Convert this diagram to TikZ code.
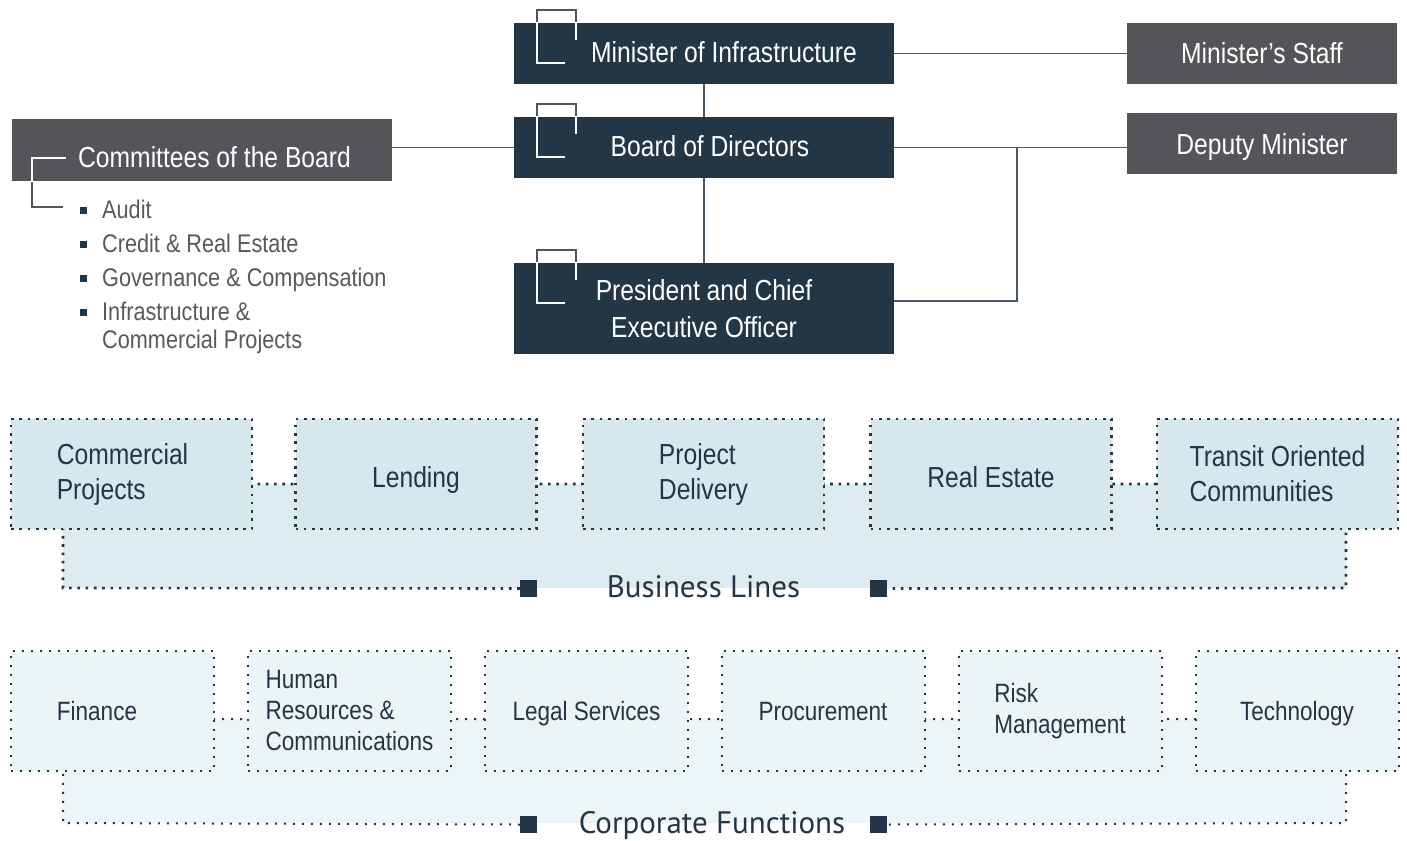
\documentclass[tikz,border=0pt]{standalone}
\usepackage{xcolor}
\usepackage{fontspec}
\setmainfont[FakeStretch=0.85]{Liberation Sans}
\newfontfamily\bandfont{PT Sans}
\usepackage{tikz}
\usetikzlibrary{positioning}

\definecolor{navy}{HTML}{233646}
\definecolor{slate}{HTML}{545558}
\definecolor{listgray}{HTML}{58595B}
\definecolor{linkgray}{HTML}{4A5866}
\definecolor{bizfill}{HTML}{D6E8EE}
\definecolor{bizband}{HTML}{DDECF0}
\definecolor{corpfill}{HTML}{EBF4F7}
\definecolor{corpband}{HTML}{EDF5F8}

\tikzset{
    execbox/.style={fill=navy, text=white, inner sep=0pt, minimum width=380pt, minimum height=61pt, align=center, font=\fontsize{29}{37}\selectfont},
    staffbox/.style={fill=slate, text=white, inner sep=0pt, minimum width=270pt, minimum height=61pt, text height=21pt, text depth=0pt, font=\fontsize{29}{37}\selectfont},
    oneline/.style={text height=#1, text depth=0pt},
    link/.style={draw=linkgray, line width=1.5pt},
    bizedge/.style={draw=navy, line width=2.6pt, dash pattern=on 2.6pt off 5.7pt},
    corpedge/.style={draw=navy, line width=2pt, dash pattern=on 2pt off 7pt},
    bizbox/.style={bizedge, fill=bizfill, inner sep=0pt, minimum width=241pt, minimum height=110pt, text=navy, align=left, font=\fontsize{29}{35}\selectfont},
    corpbox/.style={corpedge, fill=corpfill, inner sep=0pt, minimum width=203pt, minimum height=120pt, text=navy, align=left, font=\fontsize{26.5}{31}\selectfont},
    bandmark/.style={fill=navy, minimum size=17pt, inner sep=0pt},
    bandlabel/.style={text=navy, inner sep=0pt, anchor=base, font=\bandfont\fontsize{31}{31}\selectfont},
    listitem/.style={text=listgray, inner sep=0pt, anchor=base west, font=\fontsize{25.5}{34}\selectfont}
}

% bracket on the top left corner of a box
\newcommand{\cornermark}[2]{%
    \draw[line width=2pt, #2] ([shift={(51,40)}]#1.north west) -- ++(-28,0) -- ++(0,-53) -- ++(39,0) -- ++(0,30);
    \begin{scope}
        \clip (#1.north west) rectangle (#1.south east);
        \draw[line width=2pt, white] ([shift={(51,40)}]#1.north west) -- ++(-28,0) -- ++(0,-53) -- ++(39,0) -- ++(0,30);
    \end{scope}%
}

\begin{document}
\begin{tikzpicture}[x=1pt, y=-1pt]
    \useasboundingbox[fill=white] (0,0) rectangle (1407,840);

    % executive chain
    \node[execbox, oneline=19pt] (minister) at (704,53.5) {\hspace*{40pt}Minister of Infrastructure};
    \node[execbox, oneline=19pt] (board) at (704,147.5) {\hspace*{12pt}Board of Directors};
    \node[execbox, minimum height=91pt] (president) at (704,308.5) {President and Chief\\Executive Officer};
    \node[staffbox] (staff) at (1262,53.5) {Minister’s Staff};
    \node[staffbox] (deputy) at (1262,143.5) {Deputy Minister};
    \node[staffbox, minimum width=380pt, minimum height=62pt, text height=34pt] (committees) at (202,150) {\hspace*{25pt}Committees of the Board};

    \draw[link] (minister.east) -- (staff.west);
    \draw[link] (minister.south) -- (board.north);
    \draw[link] (board.south) -- (president.north);
    \draw[link] (board.west) -- (board.west -| committees.east);
    \draw[link] (board.east) -- (board.east -| deputy.west);
    \coordinate (elbow) at (1017,147.5);
    \draw[link] ([yshift=7.5pt]president.east) -| (elbow);

    \cornermark{minister}{linkgray}
    \cornermark{board}{linkgray}
    \cornermark{president}{linkgray}

    % committees bracket
    \draw[line width=2pt, slate] ([shift={(54,39)}]committees.north west) -- ++(-34,0) -- ++(0,49) -- ++(31,0);
    \begin{scope}
        \clip (committees.north west) rectangle (committees.south east);
        \draw[line width=2pt, white] ([shift={(54,39)}]committees.north west) -- ++(-34,0) -- ++(0,49);
    \end{scope}

    \foreach \entry/\yy [count=\i] in {Audit/218, Credit \& Real Estate/252, Governance \& Compensation/286, Infrastructure \&/320} {
        \node[listitem] (item\i) at (80,\yy) {\textcolor{navy}{\rule[4.5pt]{7pt}{7pt}}\hspace{15pt}\entry};
    }
    \node[listitem] (item5) at (102,348) {Commercial Projects};

    % business lines
    \fill[bizband] (63,484) rectangle (1346,588);
    \node[bandmark] (bizmarkL) at (528.5,588.5) {};
    \node[bandmark] (bizmarkR) at (878.5,588.5) {};
    \draw[bizedge] (bizmarkL.west) -- (63,588) -- (63,484) -- (1346,484) -- (1346,588) -- (bizmarkR.east);
    \node[bandlabel] (bizlabel) at (703.5,597) {Business Lines};

    \node[bizbox] (commercial) at (131.5,474) {Commercial\hspace*{18pt}\\Projects};
    \node[bizbox, oneline=26pt] (lending) at (416,474) {Lending};
    \node[bizbox] (delivery) at (703.5,474) {Project\\Delivery};
    \node[bizbox, oneline=26pt] (realestate) at (991,474) {Real Estate};
    \node[bizbox] (transit) at (1277.5,474) {Transit Oriented\\Communities};

    % corporate functions
    \fill[corpband] (63,719) rectangle (1346,823);
    \node[bandmark] (corpmarkL) at (528.5,824.5) {};
    \node[bandmark] (corpmarkR) at (878.5,824.5) {};
    \draw[corpedge] (corpmarkL.west) -- (63,823) -- (63,719) -- (1346,719) -- (1346,823) -- (corpmarkR.east);
    \node[bandlabel] (corplabel) at (712,833) {Corporate Functions};

    \node[corpbox, oneline=18pt] (finance) at (112,711) {Finance\hspace*{30pt}};
    \node[corpbox] (people) at (349.5,711) {Human\\Resources \&\\Communications};
    \node[corpbox, oneline=18pt] (legal) at (586.5,711) {Legal Services};
    \node[corpbox, oneline=18pt] (procurement) at (823,711) {Procurement};
    \node[corpbox] (risk) at (1060,711) {Risk\\Management};
    \node[corpbox, oneline=18pt] (technology) at (1297,711) {Technology};
\end{tikzpicture}
\end{document}
